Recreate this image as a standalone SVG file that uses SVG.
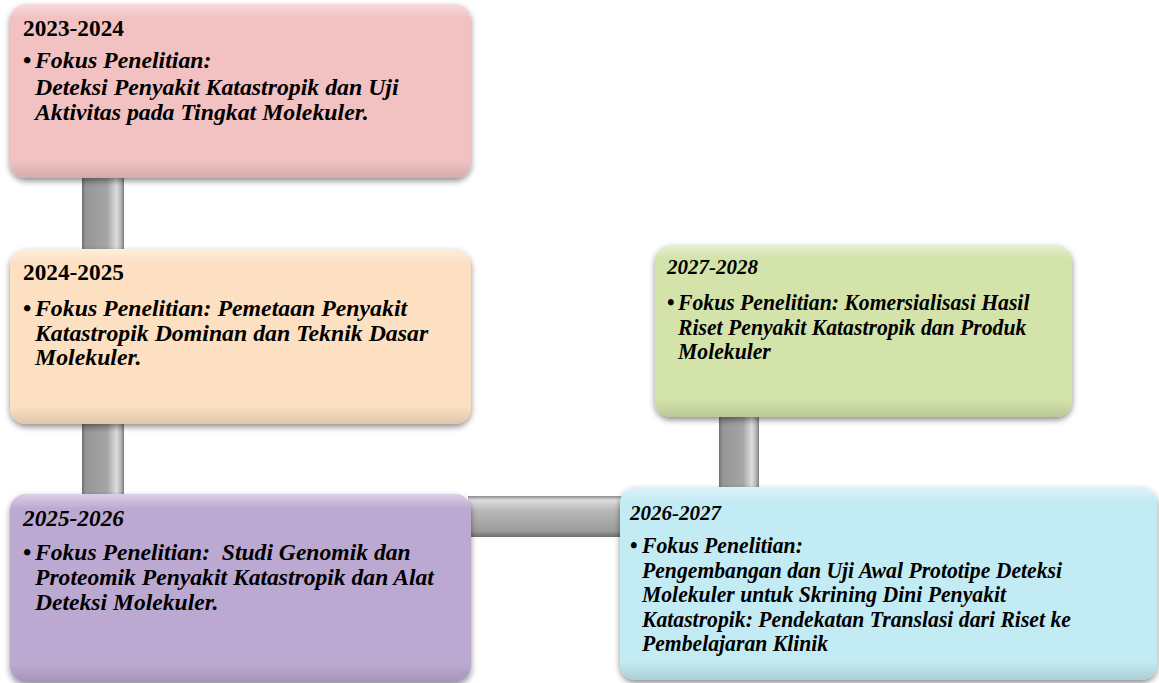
<svg xmlns="http://www.w3.org/2000/svg" width="1159" height="683" viewBox="0 0 1159 683">
<defs>
<linearGradient id="vbar" x1="0" y1="0" x2="1" y2="0">
<stop offset="0" stop-color="#6e6e6e"/>
<stop offset="0.08" stop-color="#959595"/>
<stop offset="0.6" stop-color="#a6a6a6"/>
<stop offset="0.82" stop-color="#dcdcdc"/>
<stop offset="0.93" stop-color="#b4b4b4"/>
<stop offset="1" stop-color="#7a7a7a"/>
</linearGradient>
<linearGradient id="hbar" x1="0" y1="0" x2="0" y2="1">
<stop offset="0" stop-color="#8a8a8a"/>
<stop offset="0.1" stop-color="#dedede"/>
<stop offset="0.35" stop-color="#b8b8b8"/>
<stop offset="0.85" stop-color="#9c9c9c"/>
<stop offset="1" stop-color="#6e6e6e"/>
</linearGradient>
<linearGradient id="gloss" x1="0" y1="0" x2="0" y2="1">
<stop offset="0" stop-color="#ffffff" stop-opacity="0.45"/>
<stop offset="0.08" stop-color="#ffffff" stop-opacity="0"/>
<stop offset="0.9" stop-color="#000000" stop-opacity="0"/>
<stop offset="1" stop-color="#000000" stop-opacity="0.12"/>
</linearGradient>
<filter id="shadow" x="-5%" y="-5%" width="110%" height="115%">
<feGaussianBlur in="SourceAlpha" stdDeviation="3"/>
<feOffset dx="0" dy="3" result="b"/>
<feComponentTransfer><feFuncA type="linear" slope="0.45"/></feComponentTransfer>
<feMerge><feMergeNode/><feMergeNode in="SourceGraphic"/></feMerge>
</filter>
</defs>
<style>
.box{stroke:none;filter:url(#shadow)}
.gl{fill:url(#gloss)}
.t{font-family:"Liberation Serif","Times New Roman",serif;font-weight:bold;fill:#000}
.it{font-style:italic}
.a{font-size:23.8px}
.b{font-size:23.6px}
.c{font-size:22.5px}
.ha{font-size:23.3px}
.hc{font-size:21.8px}
</style>
<g id="connectors">
<rect x="82" y="176" width="42" height="76" fill="url(#vbar)"/>
<rect x="82" y="422" width="42" height="76" fill="url(#vbar)"/>
<rect x="719" y="415" width="40" height="76" fill="url(#vbar)"/>
<rect x="468" y="496" width="156" height="41" fill="url(#hbar)"/>
</g>
<g id="node-2023">
<rect class="box" x="10" y="4" width="461" height="174" rx="16" fill="#f2c1c2"/>
<rect class="gl" x="10" y="4" width="461" height="174" rx="16"/>
<text class="t ha" x="23" y="36">2023-2024</text>
<text class="t a" x="23" y="68">•</text>
<text class="t it a" x="35" y="68">Fokus Penelitian:</text>
<text class="t it a" x="35" y="95">Deteksi Penyakit Katastropik dan Uji</text>
<text class="t it a" x="35" y="120">Aktivitas pada Tingkat Molekuler.</text>
</g>
<g id="node-2024">
<rect class="box" x="10" y="249" width="461" height="175" rx="16" fill="#fde0c2"/>
<rect class="gl" x="10" y="249" width="461" height="175" rx="16"/>
<text class="t ha" x="23" y="280">2024-2025</text>
<text class="t a" x="23" y="316">•</text>
<text class="t it a" x="35" y="316">Fokus Penelitian: Pemetaan Penyakit</text>
<text class="t it a" x="35" y="341">Katastropik Dominan dan Teknik Dasar</text>
<text class="t it a" x="35" y="365">Molekuler.</text>
</g>
<g id="node-2025">
<rect class="box" x="10" y="494" width="461" height="188" rx="16" fill="#bca9d2"/>
<rect class="gl" x="10" y="494" width="461" height="188" rx="16"/>
<text class="t it ha" x="23" y="526">2025-2026</text>
<text class="t b" x="23" y="560">•</text>
<text class="t it b" x="35" y="560" xml:space="preserve">Fokus Penelitian:  Studi Genomik dan</text>
<text class="t it b" x="35" y="585">Proteomik Penyakit Katastropik dan Alat</text>
<text class="t it b" x="35" y="610">Deteksi Molekuler.</text>
</g>
<g id="node-2027">
<rect class="box" x="655" y="245" width="417" height="172" rx="16" fill="#d3e3aa"/>
<rect class="gl" x="655" y="245" width="417" height="172" rx="16"/>
<g transform="translate(667,0) scale(0.965,1) translate(-667,0)">
<text class="t it hc" x="667" y="274">2027-2028</text>
<text class="t c" x="667" y="310">•</text>
<text class="t it c" x="678.4" y="310">Fokus Penelitian: Komersialisasi Hasil</text>
<text class="t it c" x="678.4" y="335">Riset Penyakit Katastropik dan Produk</text>
<text class="t it c" x="678.4" y="359">Molekuler</text>
</g>
</g>
<g id="node-2026">
<rect class="box" x="620" y="487" width="537" height="193" rx="16" fill="#c3ebf4"/>
<rect class="gl" x="620" y="487" width="537" height="193" rx="16"/>
<g transform="translate(630,0) scale(0.965,1) translate(-630,0)">
<text class="t it hc" x="630" y="520">2026-2027</text>
<text class="t c" x="630" y="553">•</text>
<text class="t it c" x="642.4" y="553">Fokus Penelitian:</text>
<text class="t it c" x="642.4" y="578">Pengembangan dan Uji Awal Prototipe Deteksi</text>
<text class="t it c" x="642.4" y="602">Molekuler untuk Skrining Dini Penyakit</text>
<text class="t it c" x="642.4" y="627">Katastropik: Pendekatan Translasi dari Riset ke</text>
<text class="t it c" x="642.4" y="651">Pembelajaran Klinik</text>
</g>
</g>
</svg>
